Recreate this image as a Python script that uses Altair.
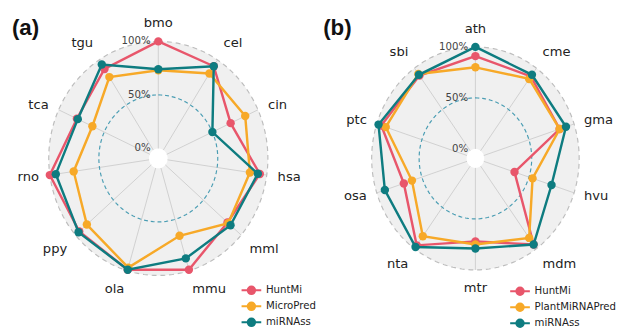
import math
import altair as alt
import pandas as pd

# ---------------- data ----------------
cats_a = ["bmo", "cel", "cin", "hsa", "mml", "mmu", "ola", "ppy", "rno", "tca", "tgu"]
methods_a = ["HuntMi", "MicroPred", "miRNAss"]
huntmi_a = [100, 93, 70, 93, 82, 99, 99, 95, 100, 80, 90]
micropred_a = [73, 85, 86, 83, 83, 66, 97, 85, 76, 63, 81]
mirnass_a = [74, 93, 50, 91, 86, 88, 99, 96, 94, 79, 95]

cats_b = ["ath", "cme", "gma", "hvu", "mdm", "mtr", "nta", "osa", "ptc", "sbi"]
methods_b = ["HuntMi", "PlantMiRNAPred", "miRNAss"]
huntmi_b = [91, 90, 84, 34, 95, 72, 96, 70, 95, 91]
plantmirnapred_b = [80, 87, 84, 54, 87, 75, 85, 61, 90, 93]
mirnass_b = [100, 92, 91, 75, 95, 79, 98, 91, 98, 92]

pct_values = [0, 50, 100]
pct_labels = ["0%", "50%", "100%"]

colors = ["#e8566b", "#f7a928", "#0e7c80"]

R0 = 0.085        # radius of the 0% ring (fraction of the 100% ring)
RL = 1.1          # radius of the category labels
FONT = "DejaVu Sans"

LEG_PATH = ("M-1.45,0L-0.55,0M0.55,0L1.45,0"
            "M-0.55,0A0.55,0.55,0,1,1,0.55,0A0.55,0.55,0,1,1,-0.55,0Z")


def build_panel(cats, series, methods, tag, W, H, cx, cy, sx, sy, legx, legy, tagx):
    n = len(cats)
    xs = alt.Scale(domain=[-cx / sx, (W - cx) / sx], nice=False, zero=False)
    ys = alt.Scale(domain=[-(H - cy) / sy, cy / sy], nice=False, zero=False)

    def X(f):
        return alt.X(f, type="quantitative", scale=xs, axis=None)

    def Y(f):
        return alt.Y(f, type="quantitative", scale=ys, axis=None)

    step = 2 * math.pi / n

    # data table
    rows = []
    for m, vals in zip(methods, series):
        for i, (c, v) in enumerate(zip(cats, vals)):
            rows.append({"method": m, "cat": c, "idx": i, "value": v})
    df = pd.DataFrame(rows)

    cat_df = pd.DataFrame({"cat": cats, "idx": list(range(n))})

    # alignment groups of the category labels
    ha, va = [], []
    for i in range(n):
        s, c = math.sin(i * step), math.cos(i * step)
        ha.append("left" if s > 0.1 else ("right" if s < -0.1 else "center"))
        va.append("bottom" if c > 0.5 else ("top" if c < -0.5 else "middle"))
    cat_df["ha"] = ha
    cat_df["va"] = va

    # background disk (filled ellipse through the scales)
    def disk(radius, color):
        return alt.Chart(alt.sequence(0, 401, 1, as_="k")).transform_calculate(
            t="-1 + datum.k / 200"
        ).transform_calculate(
            x=f"{radius} * datum.t",
            yt=f"{radius} * sqrt(max(0, 1 - datum.t * datum.t))",
            yb=f"-{radius} * sqrt(max(0, 1 - datum.t * datum.t))",
        ).mark_area(color=color, opacity=1).encode(
            x=X("x"), y=Y("yt"), y2="yb"
        )

    def ring(radius, color, dash, width):
        return alt.Chart(alt.sequence(0, 144, 1, as_="k")).transform_calculate(
            a="2 * PI * datum.k / 144"
        ).transform_calculate(
            x=f"{radius} * sin(datum.a)", y=f"{radius} * cos(datum.a)"
        ).mark_line(
            color=color, strokeDash=dash, strokeWidth=width, interpolate="linear-closed"
        ).encode(x=X("x"), y=Y("y"), order="k:Q")

    bg = disk(1.0, "#f0f0f0")
    inner = disk(R0, "#ffffff")
    outer_ring = ring(1.0, "#bdbdbd", [5, 4], 1.2)
    half_ring = ring(R0 + (1 - R0) * 0.5, "#4a9db3", [4, 3], 1.2)

    spokes = alt.Chart(cat_df).transform_calculate(
        a=f"2 * PI * datum.idx / {n}"
    ).transform_calculate(
        x1=f"{R0} * sin(datum.a)", y1=f"{R0} * cos(datum.a)",
        x2="sin(datum.a)", y2="cos(datum.a)",
    ).mark_rule(color="#cfcfcf", strokeWidth=1).encode(
        x=X("x1"), y=Y("y1"), x2="x2", y2="y2"
    )

    pct_df = pd.DataFrame({"v": pct_values, "lab": pct_labels})
    pct = alt.Chart(pct_df).transform_calculate(
        x="-0.07", y=f"{R0} + {1 - R0} * datum.v / 100"
    ).mark_text(
        align="right", baseline="middle", font=FONT, fontSize=10.5, color="#444444"
    ).encode(x=X("x"), y=Y("y"), text="lab:N")

    color = alt.Color(
        "method:N",
        scale=alt.Scale(domain=methods, range=colors),
        legend=alt.Legend(
            title=None, orient="none", legendX=legx, legendY=legy,
            symbolType=LEG_PATH, symbolSize=196, symbolStrokeWidth=2,
            labelFont=FONT, labelFontSize=10.5, labelColor="#222222",
            labelOffset=7, rowPadding=0.5, padding=0,
        ),
        sort=methods,
    )

    series_layers = []
    for m in methods:
        base = alt.Chart(df[df.method == m]).transform_calculate(
            a=f"2 * PI * datum.idx / {n}",
            r=f"{R0} + {1 - R0} * datum.value / 100",
        ).transform_calculate(
            x="datum.r * sin(datum.a)", y="datum.r * cos(datum.a)"
        )
        series_layers.append(
            base.mark_line(strokeWidth=2.5, interpolate="linear-closed").encode(
                x=X("x"), y=Y("y"), color=color, order="idx:Q"
            )
        )
        series_layers.append(
            base.mark_point(filled=True, size=75, opacity=1).encode(
                x=X("x"), y=Y("y"), color=color
            )
        )

    label_layers = []
    for h in ["left", "center", "right"]:
        for v in ["bottom", "middle", "top"]:
            sub = cat_df[(cat_df.ha == h) & (cat_df.va == v)]
            if len(sub) == 0:
                continue
            label_layers.append(
                alt.Chart(sub).transform_calculate(
                    a=f"2 * PI * datum.idx / {n}"
                ).transform_calculate(
                    x=f"{RL} * sin(datum.a)", y=f"{RL} * cos(datum.a)"
                ).mark_text(
                    align=h, baseline=v, font=FONT, fontSize=13.5, color="#222222"
                ).encode(x=X("x"), y=Y("y"), text="cat:N")
            )

    tag_layer = alt.Chart(pd.DataFrame({"t": [tag]})).mark_text(
        align="left", baseline="middle", font="Liberation Sans",
        fontSize=23, fontWeight="bold", color="#111111"
    ).encode(x=alt.value(tagx), y=alt.value(16), text="t:N")

    return alt.layer(
        bg, inner, spokes, outer_ring, half_ring, pct, *series_layers,
        *label_layers, tag_layer
    ).properties(width=W, height=H)


panel_a = build_panel(
    cats_a, [huntmi_a, micropred_a, mirnass_a], methods_a, "(a)",
    W=300, H=316, cx=155, cy=150, sx=113, sy=120.7, legx=243, legy=278, tagx=4,
)
panel_b = build_panel(
    cats_b, [huntmi_b, plantmirnapred_b, mirnass_b], methods_b, "(b)",
    W=309, H=316, cx=164, cy=150, sx=107, sy=115, legx=202, legy=279, tagx=7,
)

chart = alt.hconcat(panel_a, panel_b, spacing=0).resolve_scale(
    color="independent", x="independent", y="independent"
).resolve_legend(color="independent").properties(
    padding=0
).configure_view(stroke=None)

chart.save("out.html", embed_options={"renderer": "svg", "actions": False})
